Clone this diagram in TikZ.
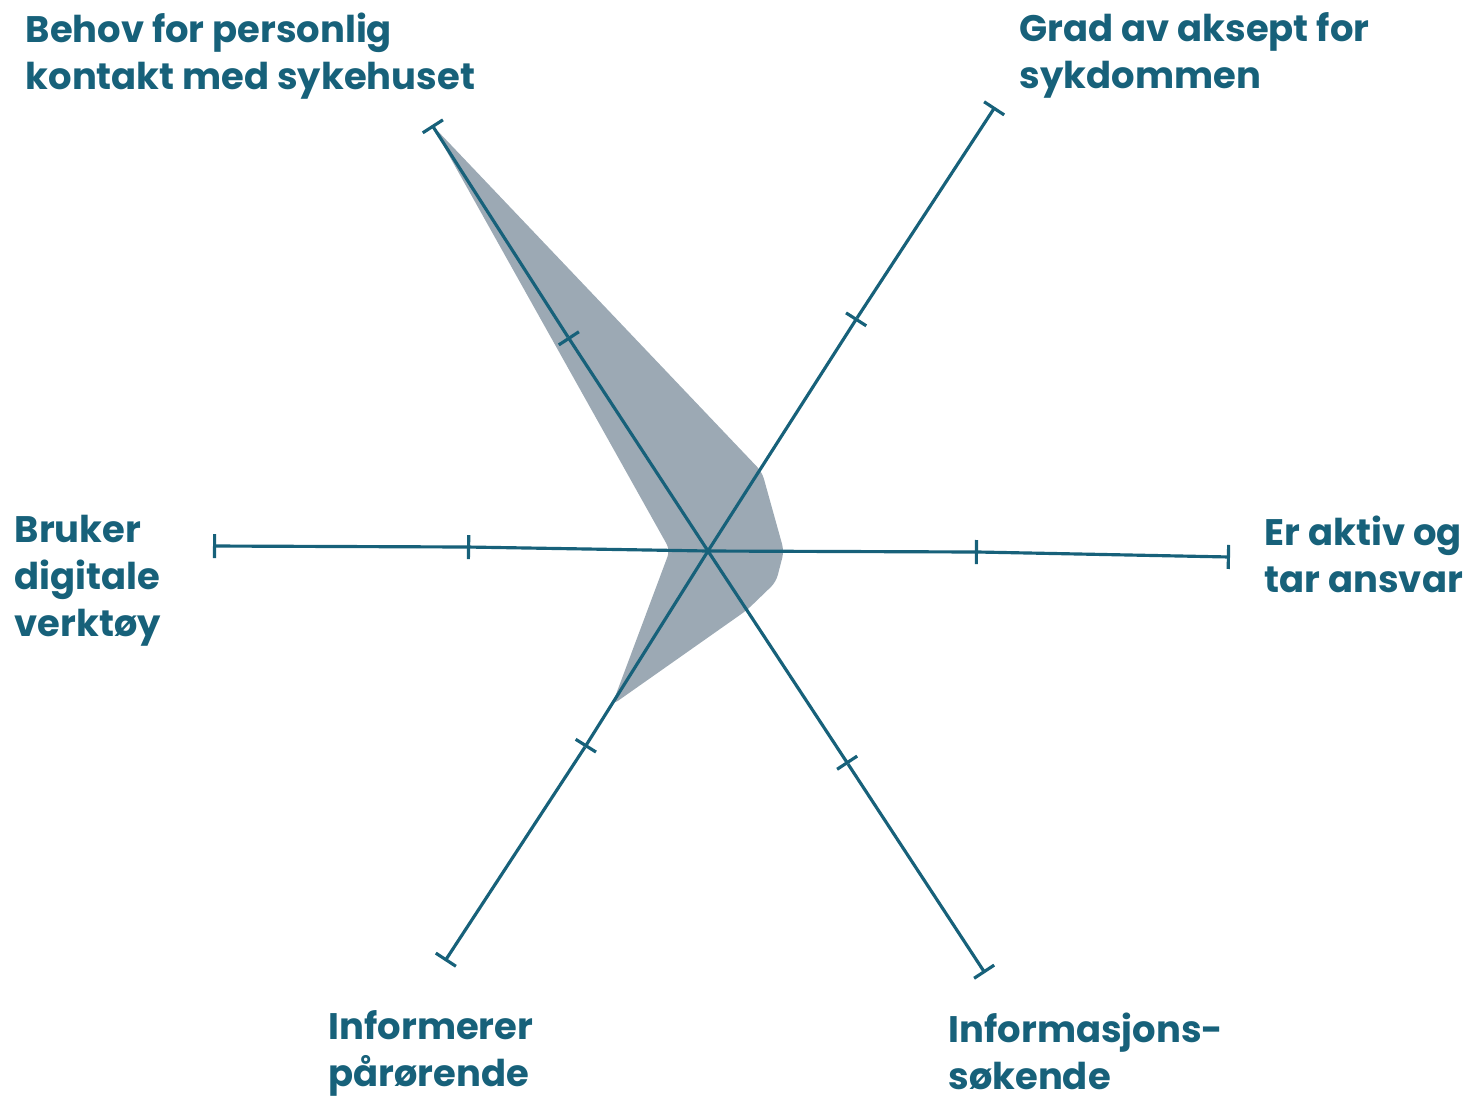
\documentclass[tikz,border=0pt]{standalone}
\usepackage{fontspec}
\setmainfont{Poppins}
\usetikzlibrary{arrows.meta}
\definecolor{petrol}{HTML}{17617A}
\definecolor{skygge}{HTML}{9CA9B4}
\begin{document}
\begin{tikzpicture}[x=0.01cm, y=-0.01cm, tekst/.style={anchor=north west, inner sep=0pt, align=left, text=petrol, font=\bfseries\fontsize{10.5}{13.4}\selectfont}, akse/.style={draw=petrol, line width=0.9pt, -{Bar[width=0.24cm, line width=0.9pt]}}]
	\useasboundingbox (0,0) rectangle (1481,1105);
	\coordinate (S) at (708,551);
	% aksene: ende og midtmerke
	\coordinate (A1) at (432,125);  \coordinate (M1) at (568,337);
	\coordinate (A2) at (995,107);  \coordinate (M2) at (857,318);
	\coordinate (A3) at (1230,557); \coordinate (M3) at (978,552);
	\coordinate (A4) at (985,973);  \coordinate (M4) at (848,764);
	\coordinate (A5) at (445,961);  \coordinate (M5) at (585,747);
	\coordinate (A6) at (213,546);  \coordinate (M6) at (467,547);
	\fill[skygge, rounded corners=2pt] (A1) -- (762,472) -- (784,551) -- (776,582) -- (747,610) -- (612,705) -- (670,550) -- cycle;
	\foreach \i in {1,...,6} {
		\draw[akse] (S) -- (M\i);
		\draw[akse] (M\i) -- (A\i);
	}
	\node[tekst] (B) at (25,12) {Behov for personlig\\kontakt med sykehuset};
	\node[tekst] (G) at (1019,12) {Grad av aksept for\\sykdommen};
	\node[tekst] (E) at (1264,515) {Er aktiv og\\tar ansvar};
	\node[tekst] (I) at (948,1012) {Informasjons-\\søkende};
	\node[tekst] (P) at (328,1010) {Informerer\\pårørende};
	\node[tekst] (D) at (14,514) {Bruker\\digitale\\verktøy};
\end{tikzpicture}
\end{document}
